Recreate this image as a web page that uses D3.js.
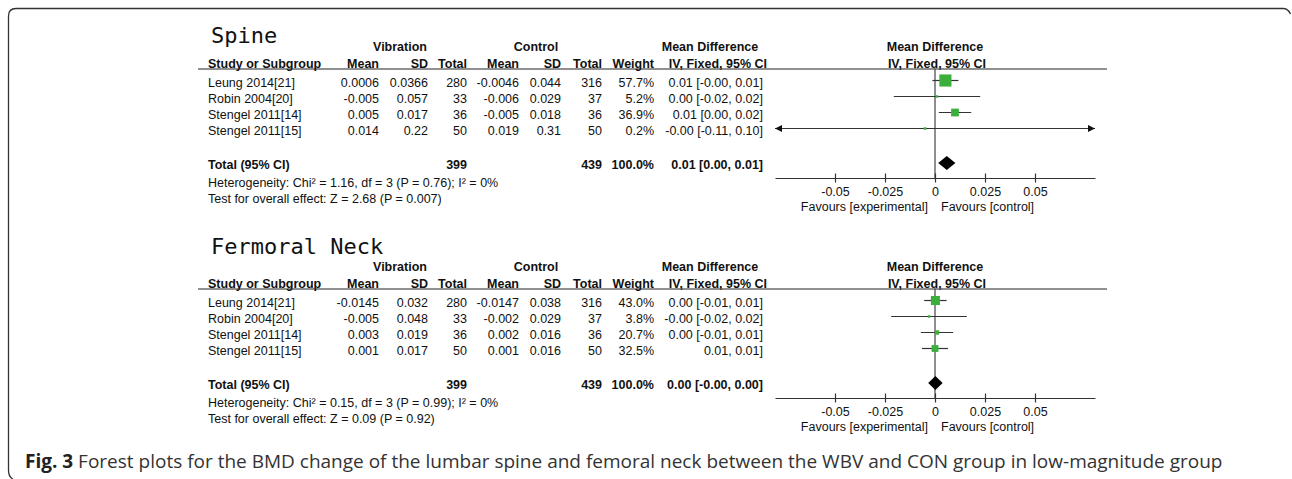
<!DOCTYPE html>
<html><head><meta charset="utf-8">
<script src="https://cdn.jsdelivr.net/npm/d3@7/dist/d3.min.js"></script>
<style>
html,body{margin:0;padding:0;background:#fff;}
svg{display:block;}
text{font-family:"Liberation Sans",Arial,sans-serif;font-size:12.5px;fill:#111;}
</style></head>
<body>
<svg id="chart" width="1292" height="479"></svg>
<script>
// ---------- data ----------
const studies = ["Leung 2014[21]", "Robin 2004[20]", "Stengel 2011[14]", "Stengel 2011[15]"];
const panelTitles = ["Spine", "Fermoral Neck"];
const tickValues = [-0.05, -0.025, 0, 0.025, 0.05];
const tickLabels = ["-0.05", "-0.025", "0", "0.025", "0.05"];

const spineVibMean = ["0.0006", "-0.005", "0.005", "0.014"];
const spineVibSD = ["0.0366", "0.057", "0.017", "0.22"];
const spineVibN = [280, 33, 36, 50];
const spineCtrlMean = ["-0.0046", "-0.006", "-0.005", "0.019"];
const spineCtrlSD = ["0.044", "0.029", "0.018", "0.31"];
const spineCtrlN = [316, 37, 36, 50];
const spineWeight = [57.7, 5.2, 36.9, 0.2];
const spineCIText = ["0.01 [-0.00, 0.01]", "0.00 [-0.02, 0.02]", "0.01 [0.00, 0.02]", "-0.00 [-0.11, 0.10]"];
const spineMD = [0.0052, 0.001, 0.010, -0.005];
const spineLo = [-0.0013, -0.0206, 0.0019, -0.110];
const spineHi = [0.0117, 0.0226, 0.0181, 0.100];
const spinePooled = [0.0016, 0.0059, 0.0102];
const spineTotals = ["399", "439", "100.0%", "0.01 [0.00, 0.01]"];
const spineNotes = ["Heterogeneity: Chi\u00b2 = 1.16, df = 3 (P = 0.76); I\u00b2 = 0%", "Test for overall effect: Z = 2.68 (P = 0.007)"];

const neckVibMean = ["-0.0145", "-0.005", "0.003", "0.001"];
const neckVibSD = ["0.032", "0.048", "0.019", "0.017"];
const neckVibN = [280, 33, 36, 50];
const neckCtrlMean = ["-0.0147", "-0.002", "0.002", "0.001"];
const neckCtrlSD = ["0.038", "0.029", "0.016", "0.016"];
const neckCtrlN = [316, 37, 36, 50];
const neckWeight = [43.0, 3.8, 20.7, 32.5];
const neckCIText = ["0.00 [-0.01, 0.01]", "-0.00 [-0.02, 0.02]", "0.00 [-0.01, 0.01]", "0.01, 0.01]"];
const neckMD = [0.0002, -0.003, 0.001, 0.0];
const neckLo = [-0.0054, -0.0219, -0.0071, -0.0065];
const neckHi = [0.0058, 0.0159, 0.0091, 0.0065];
const neckPooled = [-0.0034, 0.0002, 0.0038];
const neckTotals = ["399", "439", "100.0%", "0.00 [-0.00, 0.00]"];
const neckNotes = ["Heterogeneity: Chi\u00b2 = 0.15, df = 3 (P = 0.99); I\u00b2 = 0%", "Test for overall effect: Z = 0.09 (P = 0.92)"];

const captionBold = "Fig. 3";
const captionText = " Forest plots for the BMD change of the lumbar spine and femoral neck between the WBV and CON group in low-magnitude group";

// ---------- drawing ----------
const svg = d3.select("#chart");

// frame
svg.append("path")
  .attr("d", "M 13 479 Q 8.5 477 8.5 470 L 8.5 16 Q 8.5 8.5 16 8.5 L 1283 8.5 Q 1288 8.5 1290.5 14")
  .attr("fill", "none").attr("stroke", "#333").attr("stroke-width", 1.3);

const x = d3.scaleLinear().domain([-0.08, 0.08]).range([775, 1095]);
const boxSize = d3.scaleLinear().domain([0, 100]).range([0, 21]);

const cols = {
  study: 208, vMean: 379, vSD: 428, vN: 467, cMean: 519, cSD: 561, cN: 602, w: 654, ci: 763
};

function txt(g, s, xx, yy, anchor, bold) {
  const t = g.append("text").attr("x", xx).attr("y", yy).text(s)
    .attr("text-anchor", anchor || "start");
  if (bold) t.attr("font-weight", "bold");
  return t;
}

function drawPanel(p) {
  const g = svg.append("g");
  const base = p.base; // header-line y
  // title
  g.append("text").attr("x", 211).attr("y", p.titleY).text(p.title)
    .style("font-family", "'DejaVu Sans Mono', monospace").style("font-size", "22px");
  // group headers
  const gh = base - 18;
  txt(g, "Vibration", 400, gh, "middle", true);
  txt(g, "Control", 536, gh, "middle", true);
  txt(g, "Mean Difference", 710, gh, "middle", true);
  txt(g, "Mean Difference", x(0), gh, "middle", true);
  // column headers
  const ch = base - 1;
  txt(g, "Study or Subgroup", cols.study, ch, "start", true);
  txt(g, "Mean", cols.vMean, ch, "end", true);
  txt(g, "SD", cols.vSD, ch, "end", true);
  txt(g, "Total", cols.vN, ch, "end", true);
  txt(g, "Mean", cols.cMean, ch, "end", true);
  txt(g, "SD", cols.cSD, ch, "end", true);
  txt(g, "Total", cols.cN, ch, "end", true);
  txt(g, "Weight", cols.w, ch, "end", true);
  txt(g, "IV, Fixed, 95% CI", cols.ci + 4, ch, "end", true);
  txt(g, "IV, Fixed, 95% CI", x(0) + 2, ch, "middle", true);
  g.append("line").attr("x1", 198).attr("x2", 1107).attr("y1", base + 0.5).attr("y2", base + 0.5)
    .attr("stroke", "#222").attr("stroke-width", 1.2);

  const y = d3.scaleBand().domain(d3.range(studies.length)).range([base + 6, base + 70]);
  const rowC = i => y(i) + y.bandwidth() / 2;
  const totalC = base + 95.5;
  const axisY = base + 109.5;

  // zero line
  g.append("line").attr("x1", x(0)).attr("x2", x(0)).attr("y1", base).attr("y2", axisY)
    .attr("stroke", "#444").attr("stroke-width", 1.2);

  studies.forEach((s, i) => {
    const by = rowC(i) + 4.5;
    txt(g, s, cols.study, by, "start");
    txt(g, p.vMean[i], cols.vMean, by, "end");
    txt(g, p.vSD[i], cols.vSD, by, "end");
    txt(g, p.vN[i], cols.vN, by, "end");
    txt(g, p.cMean[i], cols.cMean, by, "end");
    txt(g, p.cSD[i], cols.cSD, by, "end");
    txt(g, p.cN[i], cols.cN, by, "end");
    txt(g, p.weight[i].toFixed(1) + "%", cols.w, by, "end");
    txt(g, p.ciText[i], cols.ci, by, "end");

    const my = rowC(i) - 2;
    const [d0, d1] = x.domain();
    const lo = Math.max(p.lo[i], d0), hi = Math.min(p.hi[i], d1);
    g.append("line").attr("x1", x(lo)).attr("x2", x(hi)).attr("y1", my).attr("y2", my)
      .attr("stroke", "#333").attr("stroke-width", 1.2);
    if (p.lo[i] < d0) {
      g.append("path").attr("d", `M${x(d0)},${my} l7,-3.5 l0,7 z`).attr("fill", "#111");
    }
    if (p.hi[i] > d1) {
      g.append("path").attr("d", `M${x(d1)},${my} l-7,-3.5 l0,7 z`).attr("fill", "#111");
    }
    const sz = Math.max(2.5, boxSize(p.weight[i]));
    g.append("rect").attr("x", x(p.md[i]) - sz / 2).attr("y", my - sz / 2)
      .attr("width", sz).attr("height", sz).attr("fill", "#3cae3c");
  });

  // totals
  const tb = totalC + 4.5;
  txt(g, "Total (95% CI)", cols.study, tb, "start", true);
  txt(g, p.totals[0], cols.vN, tb, "end", true);
  txt(g, p.totals[1], cols.cN, tb, "end", true);
  txt(g, p.totals[2], cols.w, tb, "end", true);
  txt(g, p.totals[3], cols.ci, tb, "end", true);
  const dy = totalC - 1;
  g.append("path")
    .attr("d", `M${x(p.pooled[0])},${dy} L${x(p.pooled[1])},${dy - 7} L${x(p.pooled[2])},${dy} L${x(p.pooled[1])},${dy + 7} Z`)
    .attr("fill", "#000");

  txt(g, p.notes[0], cols.study, base + 118, "start");
  txt(g, p.notes[1], cols.study, base + 134, "start");

  // axis
  const ax = g.append("g").attr("transform", `translate(0,${axisY})`)
    .call(d3.axisBottom(x).tickValues(tickValues).tickFormat((d, i) => tickLabels[i])
      .tickSizeInner(4.5).tickSizeOuter(0).tickPadding(5));
  ax.select(".domain").attr("stroke", "#333").attr("stroke-width", 1.2);
  ax.selectAll(".tick line").attr("stroke", "#333").attr("stroke-width", 1.2).attr("y1", -4.5);
  ax.selectAll(".tick text").style("font-family", "'Liberation Sans',Arial,sans-serif")
    .style("font-size", "12.5px").attr("fill", "#111");
  txt(g, "Favours [experimental]", x(0) - 7, axisY + 33, "end");
  txt(g, "Favours [control]", x(0) + 6, axisY + 33, "start");
}

drawPanel({
  title: panelTitles[0], titleY: 43, base: 68.5,
  vMean: spineVibMean, vSD: spineVibSD, vN: spineVibN,
  cMean: spineCtrlMean, cSD: spineCtrlSD, cN: spineCtrlN,
  weight: spineWeight, ciText: spineCIText, md: spineMD, lo: spineLo, hi: spineHi,
  pooled: spinePooled, totals: spineTotals, notes: spineNotes
});
drawPanel({
  title: panelTitles[1], titleY: 254, base: 288.5,
  vMean: neckVibMean, vSD: neckVibSD, vN: neckVibN,
  cMean: neckCtrlMean, cSD: neckCtrlSD, cN: neckCtrlN,
  weight: neckWeight, ciText: neckCIText, md: neckMD, lo: neckLo, hi: neckHi,
  pooled: neckPooled, totals: neckTotals, notes: neckNotes
});

// caption
const cap = svg.append("text").attr("x", 25).attr("y", 468)
  .style("font-family", "'Open Sans','Noto Sans',sans-serif").style("font-size", "19px");
cap.append("tspan").attr("font-weight", "bold").attr("fill", "#222").text(captionBold);
cap.append("tspan").attr("fill", "#333").text(captionText);
</script>
</body></html>
